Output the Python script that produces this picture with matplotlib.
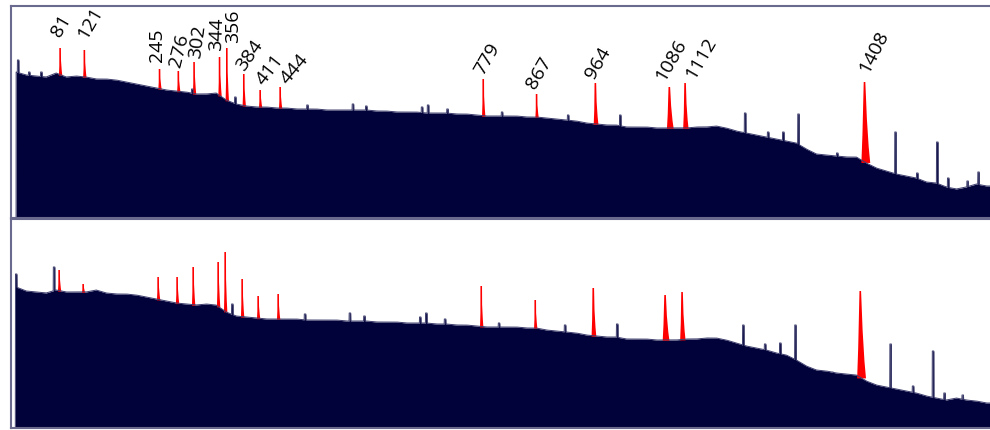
import numpy as np
import matplotlib.pyplot as plt

# continuum counts, one sample every 16.5 keV starting at 8.4 keV
top_cont = [146, 143, 142, 141, 145, 141, 142, 141, 139, 139,
            138, 136, 134, 132, 130, 128, 127, 126, 124, 124,
            125, 118, 114, 112, 111, 111, 110, 110, 109, 109,
            109, 108, 108, 108, 108, 108, 107, 107, 106, 106,
            106, 105, 105, 105, 104, 104, 103, 102, 102, 102,
            102, 101, 101, 100, 99, 98, 97, 95, 94, 93,
            93, 91, 91, 91, 90, 90, 90, 90, 91, 91,
            92, 90, 87, 85, 83, 81, 79, 77, 75, 69,
            64, 63, 62, 61, 61, 55, 50, 47, 44, 42,
            40, 36, 35, 31, 29, 31, 34, 32]
bot_cont = [141, 137, 136, 135, 138, 136, 136, 136, 138, 135,
            134, 134, 133, 131, 129, 127, 125, 124, 123, 124,
            123, 116, 112, 111, 110, 109, 109, 109, 109, 108,
            108, 108, 108, 107, 107, 107, 106, 106, 106, 105,
            105, 105, 104, 104, 103, 103, 102, 101, 101, 101,
            101, 100, 100, 98, 97, 96, 95, 93, 92, 91,
            91, 89, 89, 89, 88, 88, 88, 89, 89, 90,
            90, 88, 85, 82, 80, 78, 75, 73, 68, 62,
            58, 57, 55, 54, 53, 47, 43, 41, 39, 37,
            35, 32, 30, 28, 30, 28, 27, 25]

# narrow background lines (keV, counts)
top_spike_e = [11.7, 30, 50, 299, 370, 489, 564, 586, 678, 688, 720,
               810, 919, 1005, 1211, 1249, 1274, 1299, 1363, 1459,
               1495, 1528, 1546, 1578, 1596]
top_spike_h = [158, 146, 146, 129, 121, 113, 114, 112, 111, 113, 109,
               106, 103, 103, 105, 86, 86, 104, 65, 86,
               45, 76, 40, 37, 46]
bot_spike_e = [8.5, 71, 365, 485, 559, 583, 675, 685, 716,
               805, 914, 1000, 1208, 1244, 1269, 1294, 1355, 1451,
               1488, 1521, 1540, 1570]
bot_spike_h = [154, 161, 124, 114, 115, 112, 111, 115, 109,
               105, 103, 104, 103, 84, 85, 103, 56, 84,
               42, 77, 35, 33]

# identified photopeaks
peak_labels = [81, 121, 245, 276, 302, 344, 356, 384, 411, 444,
               779, 867, 964, 1086, 1112, 1408]
top_peak_h = [170, 168, 149, 147, 156, 161, 170, 144, 128, 131,
              139, 124, 135, 131, 135, 136]
bot_peak_e = [79.4, 119, 242.7, 274, 300.5, 341.7, 353.3, 381.3, 407.7, 440.7,
              775.7, 864.8, 960.5, 1079, 1107, 1401]
bot_peak_h = [158, 144, 151, 151, 161, 166, 176, 149, 132, 134,
              142, 128, 140, 133, 136, 137]
peak_width = [1, 1, 1, 1, 1, 1, 1, 1, 1, 1, 1, 1, 1.4, 2, 1.6, 2.6]

# label angle and offset (pixels) from the peak top
label_rot = [60, 60, 90, 76, 82, 88, 90, 55, 52, 50, 60, 60, 60, 60, 60, 63]
label_off = [(-4, 12), (-2, 12), (-3, 7), (-3, 4), (1, 4), (-3, 6), (6, 5),
             (-4, 5), (0, 7), (4, 5), (-4, 5), (-6, 6), (-6, 5), (-9, 7),
             (5, 5), (-1, 10)]

NAVY = '#02023a'
FRAME = '#6a6a8f'
KEV_PX = 1.65

e = np.linspace(0, 1615, 12000)
cont_e = 8.4 + 16.5 * np.arange(len(top_cont))


def spectrum(cont, spike_e, spike_h):
    y = np.interp(e, cont_e, cont, left=0, right=cont[-1])
    for se, sh in zip(spike_e, spike_h):
        y = np.where(np.abs(e - se) <= 0.8 * KEV_PX, np.maximum(y, sh), y)
    return y


def draw_panel(ax, cont, spike_e, spike_h, pk_e, pk_h, ymax, labels):
    y = spectrum(cont, spike_e, spike_h)
    ax.fill_between(e, 0, y, color=NAVY, lw=0)
    ax.plot(e, y, color='#3e3e6e', lw=0.7)

    fr = np.array([0, 0.35, 1, 1, 0.55, 0.2, 0])
    for i in range(len(pk_e)):
        w = peak_width[i]
        xs = np.array([-1.2 * w, -0.8 * w, -0.8, 0.8, 0.9 * w, 1.6 * w, 2.2 * w])
        base = np.interp(pk_e[i], e, y) - 1
        px = pk_e[i] + xs * KEV_PX
        py = base + fr * (pk_h[i] - base)
        ax.fill(px, py, color='#ff0000', lw=0)
        if labels:
            ax.annotate(str(peak_labels[i]), xy=(pk_e[i], pk_h[i]),
                        xytext=label_off[i], textcoords='offset pixels',
                        rotation=label_rot[i], rotation_mode='anchor',
                        ha='left', va='center', fontsize=14,
                        family='Open Sans', color='black')

    ax.set_xlim(0, 1615)
    ax.set_ylim(0, ymax)
    ax.set_xticks([])
    ax.set_yticks([])
    for side in ['top', 'left', 'bottom']:
        ax.spines[side].set_color(FRAME)
        ax.spines[side].set_linewidth(1.5)
    ax.spines['right'].set_visible(False)


fig = plt.figure(figsize=(9.9, 4.3), dpi=100)
ax_top = fig.add_axes([11 / 990, 212 / 430, 979 / 990, 212 / 430])
ax_bot = fig.add_axes([11 / 990, 2 / 430, 979 / 990, 209 / 430])

draw_panel(ax_top, top_cont, top_spike_e, top_spike_h,
           peak_labels, top_peak_h, 212, True)
draw_panel(ax_bot, bot_cont, bot_spike_e, bot_spike_h,
           bot_peak_e, bot_peak_h, 209, False)

fig.savefig('out.png', dpi=100)
